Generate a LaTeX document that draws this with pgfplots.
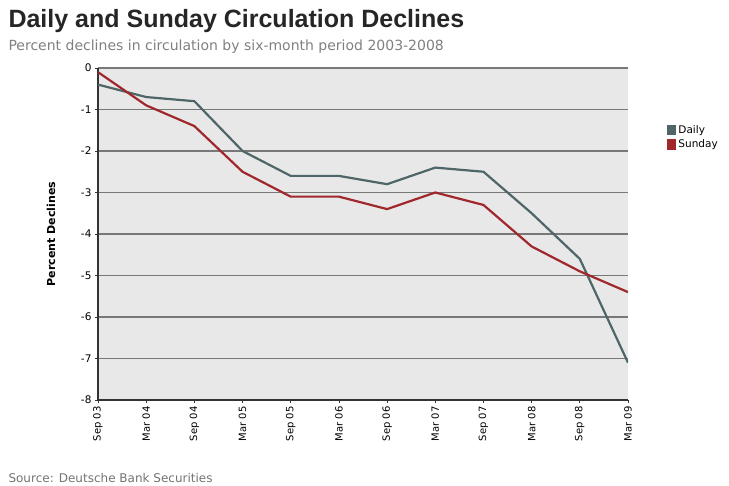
\documentclass[border=0pt]{standalone}
\usepackage{pgfplots}
\pgfplotsset{compat=1.18}
\usepackage{fontspec}
\setmainfont{DejaVu Sans}
\newfontfamily\titlefont{Liberation Sans}
\definecolor{dailyc}{RGB}{78,102,104}
\definecolor{sundayc}{RGB}{160,40,45}
\definecolor{plotbg}{RGB}{232,232,232}
\definecolor{gridc}{RGB}{120,120,120}
\begin{document}
\begin{tikzpicture}[x=1pt,y=1pt]
\useasboundingbox (-98,-86) rectangle (631,400);
\begin{axis}[
  at={(0,0)}, anchor=south west,
  scale only axis, width=530pt, height=332pt,
  xmin=0, xmax=11, ymin=-8, ymax=0,
  axis background/.style={fill=plotbg},
  xtick={0,...,11},
  xticklabels={Sep 03,Mar 04,Sep 04,Mar 05,Sep 05,Mar 06,Sep 06,Mar 07,Sep 07,Mar 08,Sep 08,Mar 09},
  xticklabel style={rotate=90, anchor=east, font=\fontsize{10}{11}\selectfont},
  ytick={-8,...,0},
  yticklabel style={font=\fontsize{10.5}{11}\selectfont},
  /pgf/number format/assume math mode=true,
  ymajorgrids, grid style={gridc, line width=1.3pt},
  axis x line*=bottom, axis y line*=left,
  x axis line style={line width=2pt, black!80, -},
  y axis line style={line width=2pt, black!80, -},
  tick style={black!80, line width=0.8pt},
  major tick length=3pt,
  tick align=outside,
  ylabel={\textbf{Percent Declines}},
  ylabel style={font=\fontsize{11}{12}\selectfont, at={(axis description cs:-0.074,0.5)}},
  legend style={at={(1.068,0.84)}, anchor=north west, draw=none, fill=none,
    font=\fontsize{10.5}{11}\selectfont, row sep=1pt},
  legend cell align=left,
  legend image code/.code={\fill[#1] (0pt,-4pt) rectangle (7pt,4pt);},
]
\addplot[dailyc, line width=2.2pt] coordinates {
(0,-0.4) (1,-0.7) (2,-0.8) (3,-2.0) (4,-2.6) (5,-2.6) (6,-2.8) (7,-2.4) (8,-2.5) (9,-3.5) (10,-4.6) (11,-7.1)};
\addlegendentry{Daily}
\addplot[sundayc, line width=2.2pt] coordinates {
(0,-0.1) (1,-0.9) (2,-1.4) (3,-2.5) (4,-3.1) (5,-3.1) (6,-3.4) (7,-3.0) (8,-3.3) (9,-4.3) (10,-4.9) (11,-5.4)};
\addlegendentry{Sunday}
\end{axis}
\node[anchor=west, font=\titlefont\fontsize{25}{28}\selectfont\bfseries, text=black!85] at (-93,379) {Daily and Sunday Circulation Declines};
\node[anchor=west, font=\fontsize{14}{16}\selectfont, text=black!50] at (-93,353) {Percent declines in circulation by six-month period 2003-2008};
\node[anchor=west, font=\fontsize{12}{14}\selectfont, text=black!55] at (-93,-78) {Source: Deutsche Bank Securities};
\end{tikzpicture}
\end{document}
